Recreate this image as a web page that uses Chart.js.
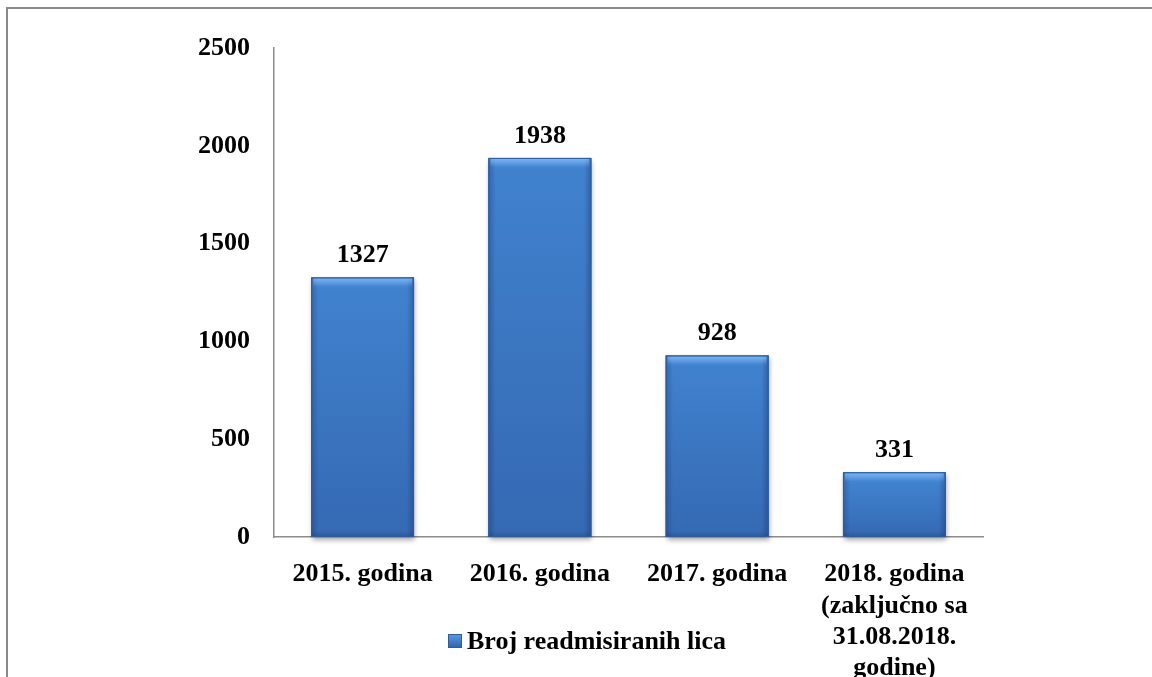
<!DOCTYPE html>
<html>
<head>
<meta charset="utf-8">
<script src="https://cdn.jsdelivr.net/npm/chart.js@4.4.1/dist/chart.umd.min.js"></script>
<style>
  html, body { margin: 0; padding: 0; background: #ffffff; }
  #wrap { position: relative; width: 1152px; height: 677px; overflow: hidden; }
  #frame { position: absolute; left: 6px; top: 7px; width: 1160px; height: 700px;
           border-top: 2px solid #8a8a8a; border-left: 2px solid #8a8a8a; }
  #c { position: absolute; left: 0; top: 0; }
</style>
</head>
<body>
<div id="wrap">
  <div id="frame"></div>
  <canvas id="c" width="1152" height="677"></canvas>
</div>
<script>
const categories = [
  "2015. godina",
  "2016. godina",
  "2017. godina",
  ["2018. godina", "(zaključno sa", "31.08.2018.", "godine)"]
];
const seriesLabel = "Broj readmisiranih lica";
const values = [1327, 1938, 928, 331];
const yTicks = [0, 500, 1000, 1500, 2000, 2500];

const FONT = "'Liberation Serif', 'Times New Roman', serif";

function barFill(ctx, left, top, w, h) {
  const g = ctx.createLinearGradient(0, top, 0, top + h);
  g.addColorStop(0, "#5192de");
  g.addColorStop(Math.min(1, 12 / Math.max(h, 1)), "#4081ce");
  g.addColorStop(1, "#3569b3");
  ctx.fillStyle = g;
  ctx.fillRect(left, top, w, h);
  const s = ctx.createLinearGradient(left, 0, left + w, 0);
  s.addColorStop(0, "rgba(20,40,90,0.30)");
  s.addColorStop(0.07, "rgba(20,40,90,0.0)");
  s.addColorStop(0.93, "rgba(20,40,90,0.0)");
  s.addColorStop(1, "rgba(20,40,90,0.35)");
  ctx.fillStyle = s;
  ctx.fillRect(left, top, w, h);
  const t = ctx.createLinearGradient(0, top, 0, top + 9);
  t.addColorStop(0, "rgba(140,195,250,0.75)");
  t.addColorStop(1, "rgba(140,195,250,0.0)");
  ctx.fillStyle = t;
  ctx.fillRect(left + 2, top + 1, w - 4, 9);
  const b = ctx.createLinearGradient(0, top + h - 6, 0, top + h);
  b.addColorStop(0, "rgba(20,40,90,0.0)");
  b.addColorStop(1, "rgba(20,40,90,0.25)");
  ctx.fillStyle = b;
  ctx.fillRect(left, top + h - 6, w, 6);
  ctx.strokeStyle = "#2d5c99";
  ctx.lineWidth = 1;
  ctx.strokeRect(left + 0.5, top + 0.5, w - 1, h - 1);
}

const barStyle = {
  id: "barStyle",
  afterDatasetsDraw(chart) {
    const ctx = chart.ctx;
    const meta = chart.getDatasetMeta(0);
    meta.data.forEach((bar) => {
      const left = bar.x - bar.width / 2;
      const top = Math.min(bar.y, bar.base);
      const h = Math.abs(bar.base - bar.y);
      ctx.save();
      ctx.shadowColor = "rgba(0,0,0,0.35)";
      ctx.shadowBlur = 5;
      ctx.shadowOffsetX = 1;
      ctx.shadowOffsetY = 3;
      ctx.fillStyle = "#3a76c4";
      ctx.fillRect(left, top, bar.width, h);
      ctx.restore();
      ctx.save();
      barFill(ctx, left, top, bar.width, h);
      ctx.restore();
    });
  }
};

const valueLabels = {
  id: "valueLabels",
  afterDatasetsDraw(chart) {
    const ctx = chart.ctx;
    const meta = chart.getDatasetMeta(0);
    ctx.save();
    ctx.font = "bold 26px " + FONT;
    ctx.fillStyle = "#000";
    ctx.textAlign = "center";
    ctx.textBaseline = "alphabetic";
    meta.data.forEach((bar, i) => {
      ctx.fillText(String(chart.data.datasets[0].data[i]), bar.x, bar.y - 15);
    });
    ctx.restore();
  }
};

const customLegend = {
  id: "customLegend",
  afterDraw(chart) {
    const ctx = chart.ctx;
    ctx.save();
    const bx = 448, by = 634, bs = 14;
    const g = ctx.createLinearGradient(0, by, 0, by + bs);
    g.addColorStop(0, "#5b9be6");
    g.addColorStop(1, "#2f62a8");
    ctx.fillStyle = g;
    ctx.fillRect(bx, by, bs, bs);
    ctx.strokeStyle = "#2d5c99";
    ctx.lineWidth = 1;
    ctx.strokeRect(bx + 0.5, by + 0.5, bs - 1, bs - 1);
    ctx.font = "bold 26px " + FONT;
    ctx.fillStyle = "#000";
    ctx.textAlign = "left";
    ctx.textBaseline = "middle";
    ctx.fillText(chart.data.datasets[0].label, 467, 642);
    ctx.restore();
  }
};

new Chart(document.getElementById("c"), {
  type: "bar",
  data: {
    labels: categories,
    datasets: [{
      label: seriesLabel,
      data: values,
      backgroundColor: "#3a76c4",
      borderWidth: 0,
      categoryPercentage: 1.0,
      barPercentage: 0.58
    }]
  },
  options: {
    responsive: false,
    animation: false,
    events: [],
    layout: { padding: { top: 48, right: 169, bottom: 0, left: 0 } },
    plugins: {
      legend: { display: false },
      tooltip: { enabled: false }
    },
    scales: {
      x: {
        grid: { display: false, drawTicks: false },
        border: { display: true, color: "#8c8c8c", width: 1.5 },
        ticks: {
          color: "#000",
          font: { family: FONT, size: 26, weight: "bold", lineHeight: 1.2 },
          padding: 22,
          maxRotation: 0,
          autoSkip: false
        },
        afterFit(scale) { scale.height = 140; }
      },
      y: {
        min: 0,
        max: 2500,
        afterBuildTicks(scale) { scale.ticks = yTicks.map(v => ({ value: v })); },
        grid: { display: false, drawTicks: false },
        border: { display: true, color: "#8c8c8c", width: 1.5 },
        ticks: {
          color: "#000",
          font: { family: FONT, size: 26, weight: "bold" },
          padding: 24,
          callback: (v) => String(v)
        },
        afterFit(scale) { scale.width = 274; }
      }
    }
  },
  plugins: [barStyle, valueLabels, customLegend]
});
</script>
</body>
</html>
